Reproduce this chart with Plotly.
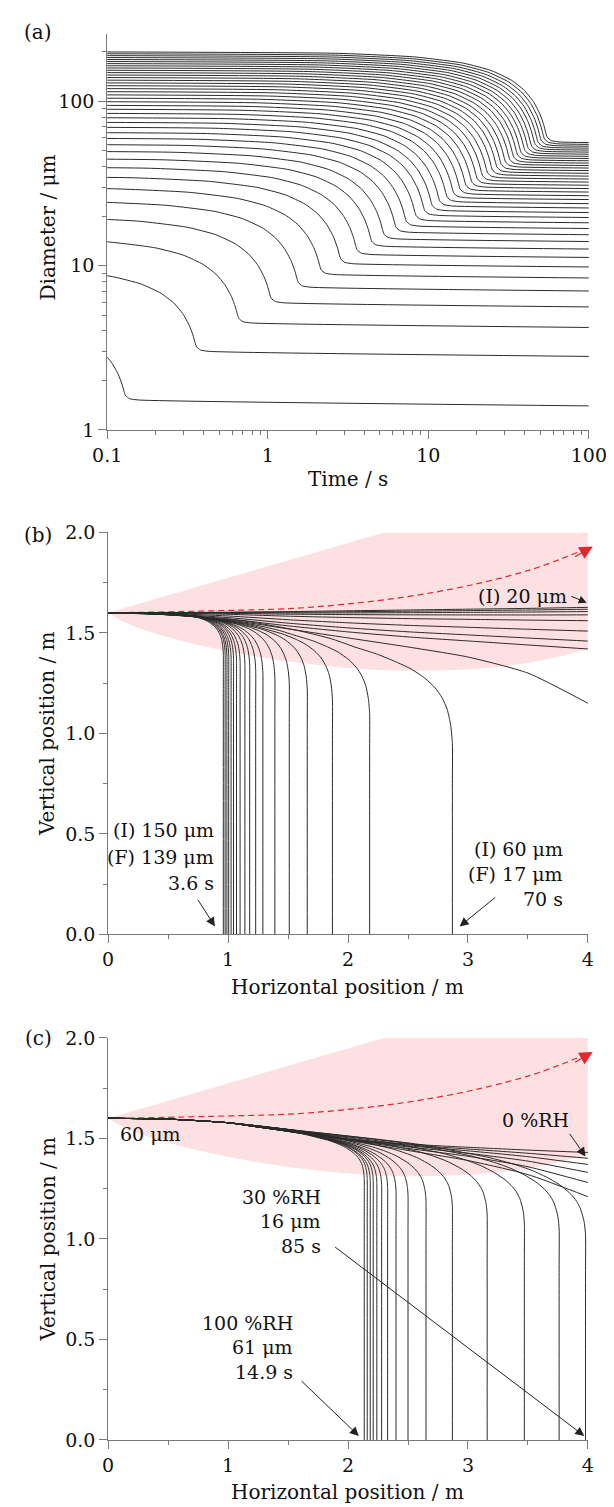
import math
import plotly.graph_objects as go

W, H = 614, 1507
FONT = "DejaVu Serif"
LINE = "#2b2b2b"
AX = "#7a7a7a"
PINK = "rgba(252,224,226,1)"
RED = "#e3262b"

# ---------------- Panel (a): diameter vs time ----------------
a_d0 = [5, 10, 15, 20, 25, 30, 35, 40, 45, 50, 55, 60, 65, 70, 75, 80, 85, 90, 95, 100,
        105, 110, 115, 120, 125, 130, 135, 140, 145, 150, 155, 160, 165, 170, 175, 180,
        185, 190, 195, 200]
a_dfinal = [1.4, 2.8, 4.2, 5.6, 7.0, 8.4, 9.8, 11.2, 12.6, 14.0, 15.4, 16.8, 18.2, 19.6,
            21.0, 22.4, 23.8, 25.2, 26.6, 28.0, 29.4, 30.8, 32.2, 33.6, 35.0, 36.4, 37.8,
            39.2, 40.6, 42.0, 43.4, 44.8, 46.2, 47.6, 49.0, 50.4, 51.8, 53.2, 54.6, 56.0]
a_tknee = [0.13, 0.36, 0.66, 1.05, 1.55, 2.15, 2.85, 3.6, 4.45, 5.3, 6.3, 7.3, 8.4, 9.5,
           10.6, 11.8, 13.1, 14.4, 15.8, 17.2, 18.7, 20.2, 21.8, 23.4, 25.1, 26.8, 28.5,
           30.3, 32.2, 34.1, 36.0, 37.9, 40.0, 42.0, 44.1, 46.3, 48.4, 50.6, 52.9, 55.0]
# shape of one curve: t / t_knee  vs  fraction of the drop left
a_prof_r = [0.0005, 0.05, 0.15, 0.3, 0.45, 0.6, 0.72, 0.82, 0.9, 0.95, 0.98, 1.0, 1.06, 1.2]
a_prof_g = [1.0, 0.968, 0.901, 0.794, 0.675, 0.54, 0.418, 0.30, 0.19, 0.11, 0.055, 0.028, 0.008, 0.0]
a_slow_drift = 0.03     # slow shrink after the knee, fraction per decade of time
a_time_end = 100.0

# ---------------- jet (pink) and its centre line, as read for (b) and (c) ----------------
jet_up_x = [0, 2.3, 4.0]
jet_up_y = [1.6, 2.0, 2.0]
jet_lo_x = [4.0, 3.75, 3.5, 3.25, 3.0, 2.75, 2.5, 2.25, 2.0, 1.75, 1.5, 1.25, 1.0, 0.75, 0.5, 0.25, 0.1, 0.0]
jet_lo_y = [1.42, 1.38, 1.35, 1.33, 1.318, 1.313, 1.312, 1.316, 1.326, 1.34, 1.358, 1.381,
            1.408, 1.44, 1.478, 1.525, 1.563, 1.6]
axis_x = [0, 0.87, 1.7, 2.7, 3.5, 3.95]
axis_y = [1.6, 1.61, 1.628, 1.70, 1.81, 1.91]

# ---------------- Panel (b): trajectories, various sizes ----------------
b_land_size = [150, 145, 140, 135, 130, 125, 120, 110, 105, 100, 95, 90, 85, 80, 75, 70, 65, 60]
b_land_x = [0.96, 0.975, 0.99, 1.005, 1.025, 1.045, 1.07, 1.10, 1.14, 1.18, 1.23, 1.29,
            1.39, 1.51, 1.66, 1.87, 2.18, 2.87]
b_land_yv = [1.40, 1.40, 1.39, 1.39, 1.38, 1.38, 1.37, 1.36, 1.35, 1.34, 1.32, 1.30,
             1.28, 1.25, 1.22, 1.17, 1.10, 0.95]
b_land_w = [0, 0, 0, 0, 0, 0.02, 0.04, 0.07, 0.1, 0.14, 0.18, 0.24, 0.32, 0.42, 0.52, 0.65, 0.8, 1.0]
b_prof_u = [0, 0.2, 0.4, 0.55, 0.65, 0.72, 0.78, 0.84, 0.88, 0.92, 0.95, 0.97, 0.985, 0.995, 1.0]
b_prof_sharp = [0, 0.005, 0.018, 0.035, 0.06, 0.085, 0.12, 0.18, 0.24, 0.33, 0.43, 0.54, 0.66, 0.82, 1.0]
b_prof_grad = [0, 0.018, 0.065, 0.135, 0.2, 0.265, 0.315, 0.38, 0.43, 0.5, 0.575, 0.65, 0.74, 0.86, 1.0]
# drops that are still in the air at 4 m: top path (20 um), lower path and the last one
b_air_x = [0, 0.5, 1.0, 1.5, 2.0, 2.5, 3.0, 3.5, 4.0]
b_air_top = [1.6, 1.601, 1.603, 1.606, 1.61, 1.614, 1.618, 1.622, 1.627]
b_air_low = [1.6, 1.593, 1.57, 1.535, 1.505, 1.48, 1.46, 1.44, 1.42]
b_air_k = [0, 0.045, 0.1, 0.18, 0.32, 0.57, 0.81, 1.0]
b_air_last = [1.6, 1.594, 1.565, 1.52, 1.475, 1.43, 1.38, 1.30, 1.15]

# ---------------- Panel (c): 60 um droplets, various RH ----------------
c_land_rh = [100, 95, 90, 85, 80, 75, 70, 65, 60, 55, 50, 45, 40, 35, 30]
c_land_x = [2.135, 2.16, 2.185, 2.21, 2.24, 2.28, 2.33, 2.40, 2.50, 2.65, 2.87, 3.16, 3.47, 3.76, 3.98]
c_land_yv = [1.30, 1.30, 1.29, 1.29, 1.28, 1.27, 1.26, 1.24, 1.22, 1.19, 1.16, 1.12, 1.08, 1.05, 1.02]
c_common_x = [0, 0.5, 1.0]
c_common_y = [1.6, 1.596, 1.578]
c_prof_u = [0, 0.17, 0.3, 0.44, 0.55, 0.65, 0.73, 0.8, 0.85, 0.9, 0.935, 0.96, 0.975, 0.985, 0.993, 0.997, 1.0]
c_prof_f = [0, 0.06, 0.105, 0.155, 0.2, 0.26, 0.31, 0.37, 0.425, 0.5, 0.57, 0.64, 0.7, 0.76, 0.84, 0.9, 1.0]
c_air_rh = [0, 5, 10, 15, 20, 25]
c_air_x = [1.0, 1.5, 2.0, 2.5, 3.0, 3.5, 4.0]
c_air_top = [1.578, 1.545, 1.497, 1.472, 1.456, 1.442, 1.43]
c_air_bot = [1.578, 1.54, 1.49, 1.44, 1.39, 1.32, 1.21]
c_air_k = [0, 0.13, 0.27, 0.45, 0.68, 1.0]

fig = go.Figure()

def line_trace(x, y, xa, ya, smoothing=0.6):
    fig.add_trace(go.Scatter(x=x, y=y, mode="lines", xaxis=xa, yaxis=ya, hoverinfo="skip",
                             line=dict(color=LINE, width=1, shape="spline", smoothing=smoothing)))

# ---- (a)
for d0, df, tk in zip(a_d0, a_dfinal, a_tknee):
    dk = df * (1 + a_slow_drift * math.log10(a_time_end / tk))
    xs = [r * tk for r in a_prof_r] + [a_time_end]
    ys = [dk + g * (d0 - dk) for g in a_prof_g] + [df]
    line_trace(xs, ys, "x", "y", smoothing=0.5)

# ---- jets for (b) and (c)
for xa, ya in (("x2", "y2"), ("x3", "y3")):
    fig.add_trace(go.Scatter(x=jet_up_x + jet_lo_x, y=jet_up_y + jet_lo_y, fill="toself",
                             fillcolor=PINK, line=dict(width=0), mode="lines",
                             xaxis=xa, yaxis=ya, hoverinfo="skip"))
    fig.add_trace(go.Scatter(x=axis_x, y=axis_y, mode="lines", xaxis=xa, yaxis=ya,
                             hoverinfo="skip",
                             line=dict(color=RED, width=1.2, dash="6px,4px", shape="spline")))

# ---- (b)
for xl, yv, w in zip(b_land_x, b_land_yv, b_land_w):
    xs = [u * xl for u in b_prof_u] + [xl, xl]
    fs = [(1 - w) * a + w * b for a, b in zip(b_prof_sharp, b_prof_grad)]
    ys = [1.6 - f * (1.6 - yv) for f in fs] + [yv - 0.2, 0]
    line_trace(xs, ys, "x2", "y2")
for k in b_air_k:
    ys = [t + k * (l - t) for t, l in zip(b_air_top, b_air_low)]
    line_trace(b_air_x, ys, "x2", "y2")
line_trace(b_air_x, b_air_last, "x2", "y2")

# ---- (c)
x0c, y0c = c_common_x[-1], c_common_y[-1]
for xl, yv in zip(c_land_x, c_land_yv):
    xs = c_common_x[:-1] + [x0c + u * (xl - x0c) for u in c_prof_u] + [xl, xl]
    ys = c_common_y[:-1] + [y0c - f * (y0c - yv) for f in c_prof_f] + [yv - 0.2, 0]
    line_trace(xs, ys, "x3", "y3")
for k in c_air_k:
    ys = c_common_y[:-1] + [t + k * (b - t) for t, b in zip(c_air_top, c_air_bot)]
    line_trace(c_common_x[:-1] + c_air_x, ys, "x3", "y3")

# ---------------- axes ----------------
def px_x(p):
    return p / W

def px_y(p):
    return 1 - p / H

common = dict(showline=True, linecolor=AX, linewidth=1, ticks="outside", ticklen=8,
              tickwidth=1, tickcolor=AX, showgrid=False, zeroline=False,
              tickfont=dict(family=FONT, size=19, color="#111"), mirror=False)
minor_x2 = dict(ticks="outside", ticklen=4, tickcolor=AX, tickvals=[0.5, 1.5, 2.5, 3.5])
minor_y2 = dict(ticks="outside", ticklen=4, tickcolor=AX, tickvals=[0.25, 0.75, 1.25, 1.75])

fig.update_layout(
    width=W, height=H, margin=dict(l=0, r=0, t=0, b=0),
    paper_bgcolor="white", plot_bgcolor="white", showlegend=False,
    xaxis=dict(common, type="log", range=[-1, 2], domain=[px_x(89), px_x(598)],
               tickvals=[0.1, 1, 10, 100], ticktext=["0.1", "1", "10", "100"], anchor="y",
               minor=dict(ticks="outside", ticklen=4, tickcolor=AX,
                          tickvals=[0.2, 0.3, 0.4, 0.5, 0.6, 0.7, 0.8, 0.9, 2, 3, 4, 5, 6, 7, 8, 9,
                                    20, 30, 40, 50, 60, 70, 80, 90])),
    yaxis=dict(common, type="log", range=[0, 2.41], domain=[px_y(417), px_y(15)],
               tickvals=[1, 10, 100], ticktext=["1", "10", "100"], anchor="x",
               minor=dict(ticks="outside", ticklen=4, tickcolor=AX,
                          tickvals=[2, 3, 4, 5, 6, 7, 8, 9, 20, 30, 40, 50, 60, 70, 80, 90, 200])),
    xaxis2=dict(common, range=[0, 4], domain=[px_x(90), px_x(597)], anchor="y2",
                tickvals=[0, 1, 2, 3, 4], ticktext=["0", "1", "2", "3", "4"], minor=minor_x2),
    yaxis2=dict(common, range=[0, 2], domain=[px_y(929), px_y(521)], anchor="x2",
                tickvals=[0, 0.5, 1, 1.5, 2], ticktext=["0.0", "0.5", "1.0", "1.5", "2.0"],
                minor=minor_y2),
    xaxis3=dict(common, range=[0, 4], domain=[px_x(90), px_x(597)], anchor="y3",
                tickvals=[0, 1, 2, 3, 4], ticktext=["0", "1", "2", "3", "4"], minor=minor_x2),
    yaxis3=dict(common, range=[0, 2], domain=[px_y(1442), px_y(1034)], anchor="x3",
                tickvals=[0, 0.5, 1, 1.5, 2], ticktext=["0.0", "0.5", "1.0", "1.5", "2.0"],
                minor=minor_y2),
)

ann = []
def ptext(text, x, y, size=20, angle=0, xanchor="center"):
    ann.append(dict(text=text, x=px_x(x), y=px_y(y), xref="paper", yref="paper",
                    showarrow=False, textangle=angle, xanchor=xanchor, yanchor="middle",
                    font=dict(family=FONT, size=size, color="#111")))

def dtext(text, x, y, xa, ya, xanchor="right", size=19):
    ann.append(dict(text=text, x=x, y=y, xref=xa, yref=ya, showarrow=False,
                    xanchor=xanchor, yanchor="middle",
                    font=dict(family=FONT, size=size, color="#111")))

def arrow(tx, ty, hx, hy, xa, ya, color="#222", size=1.8, width=1):
    ann.append(dict(text="", x=hx, y=hy, ax=tx, ay=ty, xref=xa, yref=ya, axref=xa, ayref=ya,
                    showarrow=True, arrowhead=2, arrowsize=size, arrowwidth=width,
                    arrowcolor=color))

# panel letters and axis titles
ptext("(a)", 16, 13)
ptext("(b)", 16, 524)
ptext("(c)", 16, 1034)
ptext("Time / s", 343, 467)
ptext("Horizontal position / m", 343, 982)
ptext("Horizontal position / m", 343, 1495)
ptext("Diameter / μm", 26, 212, angle=-90)
ptext("Vertical position / m", 26, 725, angle=-90)
ptext("Vertical position / m", 26, 1238, angle=-90)

# (b) notes
for t, yy in zip(["(I) 150 μm", "(F) 139 μm", "3.6 s"], [0.52, 0.387, 0.255]):
    dtext(t, 0.9, yy, "x2", "y2")
for t, yy in zip(["(I) 60 μm", "(F) 17 μm", "70 s"], [0.426, 0.30, 0.176]):
    dtext(t, 3.81, yy, "x2", "y2")
dtext("(I) 20 μm", 3.84, 1.686, "x2", "y2")
arrow(0.74, 0.18, 0.89, 0.04, "x2", "y2")
arrow(3.24, 0.19, 2.93, 0.04, "x2", "y2")
arrow(3.85, 1.685, 3.99, 1.65, "x2", "y2", size=1.6)
arrow(3.88, 1.875, 4.04, 1.93, "x2", "y2", color=RED, size=2.2, width=1.2)

# (c) notes
dtext("60 μm", 0.08, 1.52, "x3", "y3", xanchor="left")
dtext("0 %RH", 3.86, 1.59, "x3", "y3")
for t, yy in zip(["30 %RH", "16 μm", "85 s"], [1.21, 1.09, 0.965]):
    dtext(t, 1.79, yy, "x3", "y3")
for t, yy in zip(["100 %RH", "61 μm", "14.9 s"], [0.58, 0.46, 0.34]):
    dtext(t, 1.56, yy, "x3", "y3")
arrow(3.84, 1.53, 3.98, 1.41, "x3", "y3")
arrow(1.88, 0.965, 3.97, 0.02, "x3", "y3")
arrow(1.6, 0.3, 2.09, 0.02, "x3", "y3")
arrow(3.88, 1.875, 4.04, 1.93, "x3", "y3", color=RED, size=2.2, width=1.2)

fig.update_layout(annotations=ann)
fig.write_html("out.html")
